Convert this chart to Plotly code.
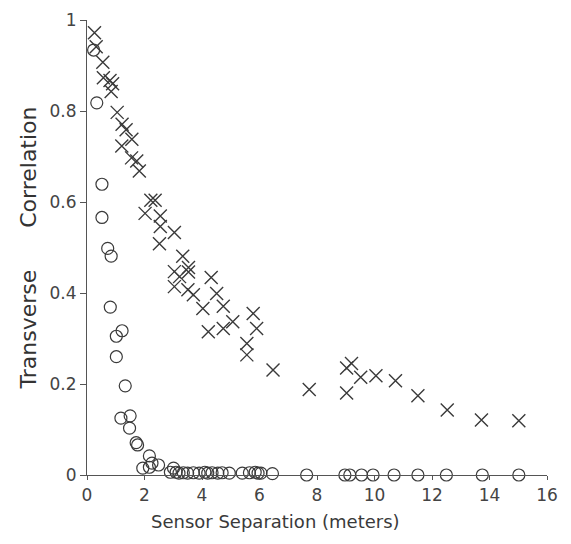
import plotly.graph_objects as go

# Crosses series
cross_x = [0.26, 0.32, 0.55, 0.57, 0.80, 0.89, 0.84, 1.05, 1.22, 1.36, 1.56, 1.21, 1.55, 1.73, 1.82,
           2.22, 2.37, 2.02, 2.55, 2.55, 2.52, 3.04, 3.33, 3.04, 3.22, 3.53, 3.53, 3.04, 3.51, 3.70,
           4.03, 4.32, 4.51, 4.74, 4.22, 4.74, 5.07, 5.78, 5.90, 5.56, 5.56, 6.47, 7.73, 9.03, 9.03,
           9.20, 9.52, 10.05, 10.73, 11.51, 12.53, 13.72, 15.02]
cross_y = [0.972, 0.941, 0.907, 0.873, 0.867, 0.860, 0.843, 0.797, 0.771, 0.759, 0.738, 0.723, 0.697,
           0.690, 0.668, 0.604, 0.604, 0.575, 0.569, 0.546, 0.508, 0.533, 0.481, 0.447, 0.436, 0.456,
           0.446, 0.414, 0.407, 0.396, 0.366, 0.434, 0.399, 0.371, 0.315, 0.322, 0.337, 0.355, 0.322,
           0.289, 0.264, 0.231, 0.188, 0.180, 0.235, 0.245, 0.215, 0.218, 0.207, 0.174, 0.143, 0.121,
           0.119]

# Circles series
circle_x = [0.23, 0.34, 0.52, 0.52, 0.72, 0.84, 0.81, 1.02, 1.22, 1.02, 1.33, 1.18, 1.50, 1.48,
            1.71, 1.76, 2.17, 1.94, 2.26, 2.49, 2.17, 3.01,
            2.90, 3.10, 3.20, 3.35, 3.50, 3.70, 3.90, 4.10, 4.20, 4.35, 4.55, 4.70, 4.95, 5.40,
            5.65, 5.85, 5.95, 6.05, 6.45,
            7.64, 8.97, 9.14, 9.55, 9.95, 10.68, 11.51, 12.50, 13.75, 15.02]
circle_y = [0.934, 0.818, 0.639, 0.566, 0.498, 0.481, 0.369, 0.305, 0.317, 0.260, 0.196, 0.125,
            0.130, 0.103, 0.071, 0.066, 0.042, 0.015, 0.026, 0.022, 0.017, 0.015,
            0.006, 0.006, 0.004, 0.005, 0.004, 0.005, 0.004, 0.006, 0.004, 0.005, 0.004, 0.005,
            0.004, 0.004, 0.005, 0.006, 0.004, 0.004, 0.003,
            0.0, 0.0, 0.0, 0.0, 0.0, 0.0, 0.0, 0.0, 0.0, 0.0]

x_ticks = [0, 2, 4, 6, 8, 10, 12, 14, 16]
y_ticks = [0, 0.2, 0.4, 0.6, 0.8, 1]
y_tick_text = ["0", "0.2", "0.4", "0.6", "0.8", "1"]
x_title = "Sensor Separation (meters)"
y_title = "Transverse" + "\u00a0" * 6 + "Correlation"

ink = "#3a3a3a"

fig = go.Figure()
fig.add_trace(go.Scatter(
    x=circle_x, y=circle_y, mode="markers", cliponaxis=False, name="circles",
    marker=dict(symbol="circle-open", size=12, color=ink, line=dict(width=1.2, color=ink)),
))
fig.add_trace(go.Scatter(
    x=cross_x, y=cross_y, mode="markers", cliponaxis=False, name="crosses",
    marker=dict(symbol="x-thin-open", size=13, color=ink, line=dict(width=1.4, color=ink)),
))

# page body has an 8px default margin, so the figure is sized to fit inside it
fig.update_layout(
    width=555, height=528,
    margin=dict(l=79, r=16, t=12, b=61),
    paper_bgcolor="white", plot_bgcolor="white",
    showlegend=False,
    font=dict(family="DejaVu Sans", color=ink),
)
fig.update_xaxes(
    range=[0, 16], tickvals=x_ticks, ticktext=[str(v) for v in x_ticks],
    showgrid=False, zeroline=False, showline=True, linecolor="#555", linewidth=1.2,
    ticks="outside", ticklen=4, tickcolor="#555", tickwidth=1,
    tickfont=dict(size=17, color="#444"),
    automargin=False,
)
fig.update_yaxes(
    range=[0, 1], tickvals=y_ticks, ticktext=y_tick_text,
    showgrid=False, zeroline=False, showline=True, linecolor="#555", linewidth=1.2,
    ticks="outside", ticklen=6, tickcolor="#555", tickwidth=1,
    tickfont=dict(size=17, color="#444"),
    title=dict(text=y_title, font=dict(size=22, color="#333"), standoff=6),
    automargin=False,
)
fig.add_annotation(
    text=x_title, xref="paper", yref="paper", x=0.41, y=-0.103,
    xanchor="center", yanchor="middle", showarrow=False,
    font=dict(size=18, color=ink),
)

fig.write_html("out.html")
